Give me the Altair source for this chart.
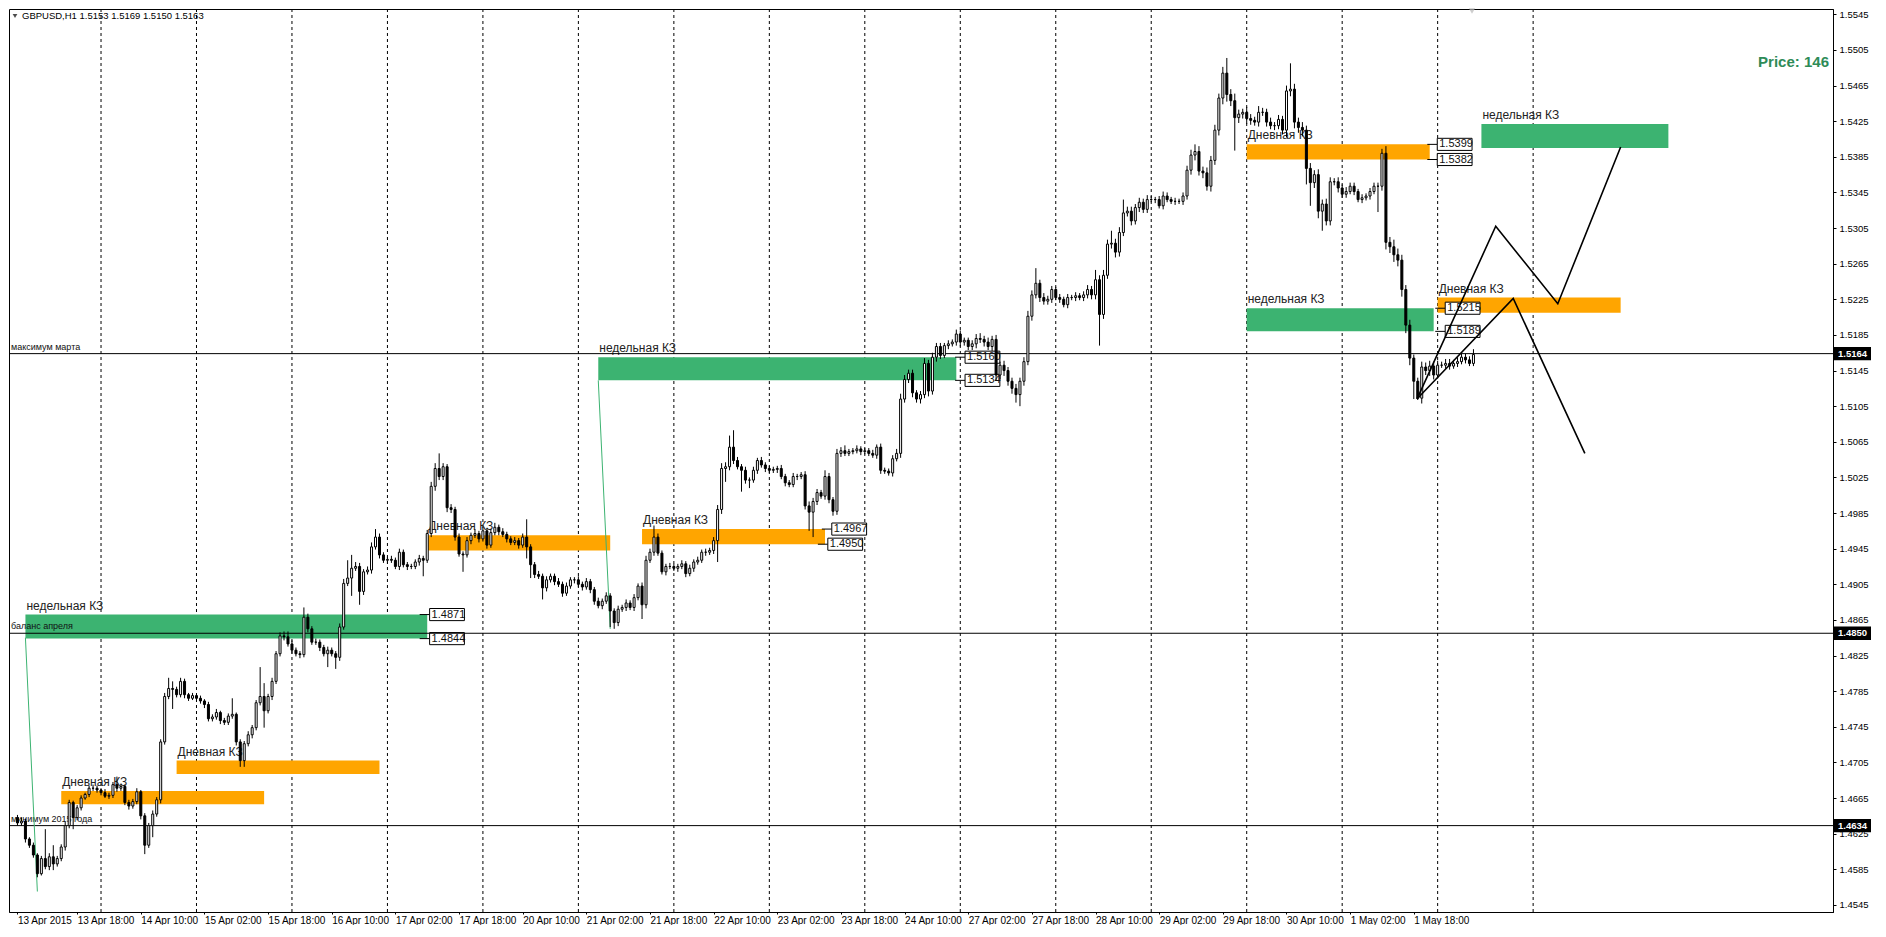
import altair as alt
import pandas as pd

# ---------------- data (prices in pips above 1.4500) ----------------
BASE = 1.45
FIRST_OPEN = 143
CLOSE = [
    137, 139, 119, 112, 101, 80, 97, 88, 99, 91,
    97, 110, 134, 160, 143, 154, 165, 169, 176, 176,
    174, 171, 167, 168, 180, 176, 178, 160, 156, 161,
    172, 145, 112, 134, 147, 163, 228, 279, 288, 287,
    281, 296, 281, 277, 280, 277, 274, 270, 254, 256,
    261, 252, 250, 257, 259, 228, 207, 226, 236, 244,
    272, 279, 263, 279, 296, 327, 347, 346, 338, 331,
    327, 326, 368, 355, 340, 340, 334, 327, 331, 327,
    323, 357, 406, 412, 423, 425, 397, 419, 421, 447,
    458, 438, 432, 433, 432, 425, 441, 427, 425, 425,
    430, 434, 432, 462, 515, 535, 526, 537, 491, 489,
    458, 439, 438, 454, 460, 462, 456, 465, 449, 463,
    469, 464, 461, 456, 452, 454, 449, 458, 447, 427,
    416, 414, 401, 410, 414, 408, 405, 395, 403, 410,
    410, 405, 402, 408, 399, 386, 381, 386, 392, 375,
    362, 377, 379, 384, 379, 390, 403, 382, 432, 441,
    458, 440, 419, 425, 425, 423, 425, 428, 417, 423,
    430, 432, 441, 441, 443, 454, 489, 535, 537, 559,
    544, 537, 533, 522, 522, 533, 544, 539, 535, 533,
    534, 535, 526, 519, 517, 526, 526, 528, 493, 486,
    498, 508, 504, 526, 500, 487, 552, 555, 552, 554,
    555, 557, 554, 555, 552, 550, 559, 533, 532, 530,
    546, 552, 613, 635, 642, 620, 613, 618, 653, 622,
    660, 672, 662, 673, 675, 677, 686, 677, 679, 672,
    675, 681, 680, 677, 672, 680, 640, 651, 645, 633,
    625, 618, 633, 655, 706, 730, 743, 727, 723, 725,
    736, 727, 725, 719, 727, 727, 729, 727, 730, 736,
    730, 747, 708, 752, 787, 788, 778, 800, 822, 824,
    813, 828, 834, 826, 837, 837, 837, 830, 841, 837,
    835, 835, 835, 841, 870, 887, 891, 869, 867, 852,
    881, 915, 951, 979, 955, 948, 929, 933, 935, 928,
    926, 924, 935, 935, 924, 920, 920, 927, 915, 959,
    961, 924, 918, 915, 872, 856, 865, 824, 832, 813,
    857, 857, 850, 843, 846, 852, 846, 837, 839, 841,
    846, 852, 852, 889, 789, 784, 775, 769, 736, 696,
    659, 633, 614, 649, 645, 650, 640, 651, 651, 653,
    650, 653, 655, 660, 657, 653, 663,
]
HIGH_WICK = [
    3, 4, 3, 2, 3, 2, 3, 33, 4, 13,
    3, 3, 4, 3, 2, 3, 3, 2, 3, 4,
    3, 2, 4, 3, 3, 9, 3, 2, 3, 3,
    4, 2, 3, 3, 4, 3, 3, 4, 12, 8,
    3, 4, 3, 2, 3, 2, 3, 2, 3, 3,
    4, 2, 3, 3, 18, 2, 3, 3, 4, 3,
    3, 33, 15, 3, 4, 3, 4, 5, 6, 4,
    3, 3, 11, 4, 3, 4, 3, 3, 4, 3,
    3, 4, 5, 20, 15, 5, 4, 3, 4, 5,
    9, 4, 3, 3, 4, 3, 4, 3, 3, 3,
    3, 4, 3, 4, 5, 6, 17, 4, 3, 4,
    3, 4, 3, 4, 3, 5, 3, 4, 3, 4,
    5, 3, 4, 3, 3, 4, 3, 4, 20, 3,
    3, 4, 3, 4, 3, 3, 4, 3, 4, 3,
    3, 4, 3, 4, 3, 3, 4, 3, 4, 3,
    3, 4, 3, 4, 3, 4, 3, 4, 5, 4,
    13, 4, 3, 3, 4, 3, 3, 4, 3, 4,
    3, 4, 3, 4, 3, 4, 5, 6, 5, 13,
    19, 4, 3, 4, 3, 4, 3, 4, 3, 3,
    3, 3, 4, 3, 3, 4, 3, 3, 4, 5,
    4, 4, 3, 7, 4, 3, 5, 4, 6, 3,
    3, 4, 3, 3, 3, 4, 3, 4, 3, 3,
    4, 5, 6, 5, 4, 4, 3, 4, 6, 4,
    5, 4, 4, 3, 4, 3, 5, 4, 3, 3,
    4, 5, 6, 4, 5, 4, 5, 4, 5, 4,
    4, 5, 4, 5, 6, 5, 17, 4, 5, 4,
    4, 3, 4, 3, 4, 3, 4, 3, 4, 5,
    4, 11, 5, 6, 5, 14, 5, 6, 15, 5,
    5, 4, 5, 4, 5, 4, 3, 4, 5, 4,
    3, 4, 3, 4, 5, 6, 8, 6, 5, 6,
    5, 6, 5, 7, 17, 6, 8, 5, 4, 6,
    5, 4, 7, 5, 4, 5, 4, 5, 4, 6,
    29, 6, 5, 6, 5, 6, 5, 6, 5, 6,
    5, 4, 5, 4, 5, 4, 4, 3, 4, 3,
    4, 4, 4, 5, 8, 6, 8, 7, 6, 5,
    6, 4, 4, 6, 5, 6, 5, 5, 4, 5,
    5, 4, 5, 4, 4, 4, 6,
]
LOW_WICK = [
    3, 3, 4, 3, 3, 4, 2, 3, 4, 7,
    3, 3, 4, 3, 13, 3, 3, 2, 3, 3,
    3, 3, 2, 3, 3, 4, 3, 3, 4, 3,
    3, 4, 10, 3, 13, 3, 4, 3, 3, 22,
    3, 3, 4, 3, 2, 3, 3, 4, 3, 3,
    3, 4, 3, 3, 3, 4, 7, 7, 3, 4,
    3, 3, 19, 3, 4, 3, 3, 4, 3, 4,
    3, 4, 3, 4, 3, 3, 4, 3, 15, 3,
    13, 4, 3, 3, 20, 3, 15, 4, 3, 4,
    3, 4, 3, 4, 3, 3, 4, 3, 4, 3,
    3, 4, 18, 3, 4, 5, 4, 4, 5, 4,
    4, 3, 19, 3, 4, 3, 4, 3, 4, 3,
    3, 4, 3, 4, 3, 3, 4, 3, 13, 15,
    4, 3, 13, 4, 3, 4, 3, 4, 3, 3,
    4, 3, 4, 3, 4, 4, 3, 4, 3, 18,
    7, 4, 3, 4, 3, 4, 3, 16, 4, 3,
    4, 3, 3, 4, 3, 3, 4, 3, 4, 3,
    4, 3, 3, 4, 3, 4, 24, 5, 15, 4,
    4, 3, 24, 4, 9, 3, 4, 3, 4, 3,
    3, 4, 3, 4, 3, 3, 4, 3, 4, 21,
    28, 4, 3, 4, 4, 5, 4, 4, 3, 3,
    3, 3, 4, 3, 3, 3, 4, 4, 3, 3,
    4, 3, 5, 4, 4, 5, 4, 5, 4, 6,
    4, 5, 4, 3, 4, 3, 4, 5, 4, 4,
    4, 5, 4, 5, 4, 5, 6, 5, 6, 5,
    6, 9, 13, 5, 4, 5, 4, 5, 4, 4,
    4, 3, 4, 3, 4, 3, 4, 3, 4, 4,
    5, 5, 35, 5, 4, 5, 6, 5, 4, 4,
    5, 4, 5, 4, 4, 3, 4, 3, 4, 3,
    3, 4, 3, 4, 4, 5, 6, 5, 6, 5,
    6, 5, 6, 7, 8, 6, 37, 6, 5, 6,
    5, 4, 5, 4, 5, 4, 5, 4, 5, 8,
    6, 7, 6, 7, 18, 26, 6, 8, 22, 5,
    5, 4, 5, 4, 4, 3, 4, 3, 4, 3,
    4, 3, 29, 5, 8, 7, 8, 7, 8, 9,
    8, 20, 2, 6, 5, 6, 5, 4, 3, 4,
    4, 3, 4, 3, 4, 3, 3,
]

DAY_STARTS = [21, 45, 69, 93, 117, 141, 165, 189, 213, 237, 261, 285, 309, 333, 357, 381]
LABEL_BARS = [0, 15, 31, 47, 63, 79, 95, 111, 127, 143, 159, 175, 191, 207, 223,
              239, 255, 271, 287, 303, 319, 335, 351]
LABEL_TEXT = ["13 Apr 2015", "13 Apr 18:00", "14 Apr 10:00", "15 Apr 02:00", "15 Apr 18:00",
              "16 Apr 10:00", "17 Apr 02:00", "17 Apr 18:00", "20 Apr 10:00", "21 Apr 02:00",
              "21 Apr 18:00", "22 Apr 10:00", "23 Apr 02:00", "23 Apr 18:00", "24 Apr 10:00",
              "27 Apr 02:00", "27 Apr 18:00", "28 Apr 10:00", "29 Apr 02:00", "29 Apr 18:00",
              "30 Apr 10:00", "1 May 02:00", "1 May 18:00"]
Y_TICKS = [1.4545, 1.4585, 1.4625, 1.4665, 1.4705, 1.4745, 1.4785, 1.4825, 1.4865,
           1.4905, 1.4945, 1.4985, 1.5025, 1.5065, 1.5105, 1.5145, 1.5185, 1.5225,
           1.5265, 1.5305, 1.5345, 1.5385, 1.5425, 1.5465, 1.5505, 1.5545]

H_LINES = [1.5164, 1.4850, 1.4634]
H_LINE_TEXT = ["максимум марта", "баланс апреля", "минимум 2015 года"]

ZONE_START = [2, 146, 309, 368, 11, 40, 103, 157, 309, 357]
ZONE_END = [103, 236, 356, 415, 62, 91, 149, 203, 355, 403]
ZONE_LOW = [1.4844, 1.5134, 1.5189, 1.5395, 1.4658, 1.4692, 1.4943, 1.4950, 1.5382, 1.5210]
ZONE_HIGH = [1.4871, 1.5160, 1.5215, 1.5422, 1.4673, 1.4707, 1.4960, 1.4967, 1.5399, 1.5227]
ZONE_KIND = ["w", "w", "w", "w", "d", "d", "d", "d", "d", "d"]
ZONE_NAME = {"w": "недельная КЗ", "d": "Дневная КЗ"}
ZONE_COLOR = {"w": "#3CB371", "d": "#FFA500"}

TAG_BAR = [103.6, 103.6, 238.2, 238.2, 204.7, 203.7, 356.9, 356.9, 358.9, 358.9]
TAG_PRICE = [1.4871, 1.4844, 1.5160, 1.5134, 1.4967, 1.4950, 1.5399, 1.5382, 1.5215, 1.5189]

GREEN_LINE_BARS = [[2, 5], [146, 149]]
GREEN_LINE_PRICES = [[1.4845, 1.4560], [1.5134, 1.4855]]

PATH_BARS = [[351.8, 371.6, 387.2, 403.0], [351.8, 376.0, 394.0]]
PATH_PRICES = [[1.5113, 1.5307, 1.5220, 1.5396], [1.5113, 1.5226, 1.5052]]

AXIS_TAGS = [1.5164, 1.4850, 1.4634]
HEADER = "GBPUSD,H1  1.5153 1.5169 1.5150 1.5163"
PRICE_TEXT = "Price: 146"

# ---------------- build tables ----------------
rows = []
prev = FIRST_OPEN
for i, c in enumerate(CLOSE):
    o = prev
    hi = max(o, c) + HIGH_WICK[i]
    lo = min(o, c) - LOW_WICK[i]
    rows.append(dict(i=i, o=BASE + o / 1e4, c=BASE + c / 1e4,
                     h=BASE + hi / 1e4, l=BASE + lo / 1e4, bull=bool(c >= o)))
    prev = c
candles = pd.DataFrame(rows)

zones = pd.DataFrame(dict(x0=ZONE_START, x1=ZONE_END, p0=ZONE_LOW, p1=ZONE_HIGH,
                          col=[ZONE_COLOR[k] for k in ZONE_KIND],
                          name=[ZONE_NAME[k] for k in ZONE_KIND]))
tags = pd.DataFrame(dict(x0=TAG_BAR, x1=[b + 8.75 for b in TAG_BAR],
                         lx=[b - 2.5 for b in TAG_BAR],
                         p=TAG_PRICE, hi=[p + 0.00068 for p in TAG_PRICE],
                         lo=[p - 0.00068 for p in TAG_PRICE],
                         t=[f"{p:.4f}" for p in TAG_PRICE]))
hl = pd.DataFrame(dict(p=H_LINES, t=H_LINE_TEXT))
days = pd.DataFrame(dict(d=DAY_STARTS))

g_rows = []
for g, (bs, ps) in enumerate(zip(GREEN_LINE_BARS, GREEN_LINE_PRICES)):
    for k, (b, p) in enumerate(zip(bs, ps)):
        g_rows.append(dict(g=g, k=k, b=b, p=p))
glines = pd.DataFrame(g_rows)
p_rows = []
for g, (bs, ps) in enumerate(zip(PATH_BARS, PATH_PRICES)):
    for k, (b, p) in enumerate(zip(bs, ps)):
        p_rows.append(dict(g=g, k=k, b=b, p=p))
paths = pd.DataFrame(p_rows)
atags = pd.DataFrame(dict(p=AXIS_TAGS, hi=[p + 0.00075 for p in AXIS_TAGS],
                          lo=[p - 0.00075 for p in AXIS_TAGS],
                          t=[f"{p:.4f}" for p in AXIS_TAGS]))

# ---------------- scales / axes ----------------
W, H = 1824, 903
XD = [-0.875, 455.125]
YD = [1.4537, 1.5551]
FONT = "Liberation Sans"

label_expr = ("[" + ",".join(f"'{t}'" for t in LABEL_TEXT) + "][indexof(["
              + ",".join(str(b) for b in LABEL_BARS) + "], datum.value)]")
XAXIS = alt.Axis(values=LABEL_BARS, labelExpr=label_expr, labelAlign="left",
                 labelFont=FONT, labelFontSize=10, labelColor="black", tickColor="black",
                 tickSize=2, domainColor="black", labelPadding=1, labelOverlap=False,
                 labelFlush=False, grid=False, title=None)
YAXIS = alt.Axis(orient="right", values=Y_TICKS, format=".4f", labelFont=FONT,
                 labelFontSize=9.5, labelColor="black", tickColor="black", tickSize=3,
                 domainColor="black", labelPadding=3, labelOverlap=False, grid=False,
                 title=None)


def X(f):
    return alt.X(f"{f}:Q", scale=alt.Scale(domain=XD, nice=False, zero=False), axis=XAXIS)


def Y(f):
    return alt.Y(f"{f}:Q", scale=alt.Scale(domain=YD, nice=False, zero=False), axis=YAXIS)


grid = alt.Chart(days).mark_rule(color="black", strokeDash=[3, 3], strokeWidth=1).encode(x=X("d"))

zone_rects = alt.Chart(zones).mark_rect().encode(
    x=X("x0"), x2="x1", y=Y("p1"), y2="p0", color=alt.Color("col:N", scale=None))
zone_text = alt.Chart(zones).mark_text(align="left", baseline="alphabetic", dx=1, dy=-5,
                                       font=FONT, fontSize=12, color="#222222").encode(
    x=X("x0"), y=Y("p1"), text="name:N")

tag_lead = alt.Chart(tags).mark_rule(color="black", strokeWidth=1).encode(
    x=X("lx"), x2="x0", y=Y("p"))
tag_box = alt.Chart(tags).mark_rect(fill="white", stroke="black", strokeWidth=1).encode(
    x=X("x0"), x2="x1", y=Y("hi"), y2="lo")
tag_text = alt.Chart(tags).mark_text(align="left", baseline="middle", dx=2, font=FONT,
                                     fontSize=11, color="#111111").encode(
    x=X("x0"), y=Y("p"), text="t:N")

hlines = alt.Chart(hl).mark_rule(color="black", strokeWidth=1).encode(y=Y("p"))
hl_text = alt.Chart(hl).mark_text(align="left", baseline="bottom", dx=2, dy=-2, font=FONT,
                                  fontSize=9, color="#111111").encode(
    x=alt.value(0), y=Y("p"), text="t:N")

green_lines = alt.Chart(glines).mark_line(color="#3CB371", strokeWidth=1).encode(
    x=X("b"), y=Y("p"), detail="g:N", order="k:Q")

wicks = alt.Chart(candles).mark_rule(color="black", strokeWidth=1).encode(
    x=X("i"), y=Y("l"), y2="h")
bodies = alt.Chart(candles).mark_bar(size=2, stroke="black", strokeWidth=1).encode(
    x=X("i"), y=Y("o"), y2="c",
    fill=alt.condition("datum.bull", alt.value("white"), alt.value("black")))

path_lines = alt.Chart(paths).mark_line(color="black", strokeWidth=1.6).encode(
    x=X("b"), y=Y("p"), detail="g:N", order="k:Q")

atag_box = alt.Chart(atags).mark_rect(fill="black").encode(
    x=alt.value(W + 1), x2=alt.value(W + 38), y=Y("hi"), y2="lo")
atag_text = alt.Chart(atags).mark_text(align="left", baseline="middle", font=FONT,
                                       fontSize=9.5, fontWeight="bold", color="white").encode(
    x=alt.value(W + 5), y=Y("p"), text="t:N")

header = alt.Chart(pd.DataFrame(dict(t=[HEADER]))).mark_text(
    align="left", baseline="middle", font=FONT, fontSize=9.5, color="black").encode(
    x=alt.value(13), y=alt.value(7), text="t:N")
header_tri = alt.Chart(pd.DataFrame(dict(t=[HEADER]))).mark_point(
    shape="triangle-down", filled=True, size=22, color="black").encode(
    x=alt.value(6), y=alt.value(7))
shift_tri = alt.Chart(pd.DataFrame(dict(t=[1]))).mark_point(
    shape="triangle-down", filled=True, size=40, color="#b8b8b8").encode(
    x=alt.value(1463), y=alt.value(2))
price_text = alt.Chart(pd.DataFrame(dict(t=[PRICE_TEXT]))).mark_text(
    align="right", baseline="middle", font=FONT, fontSize=15, fontWeight="bold",
    color="#2E8B57").encode(x=alt.value(W - 4), y=alt.value(53), text="t:N")

chart = alt.layer(
    grid, zone_rects, tag_lead, tag_box, tag_text, zone_text, hlines, hl_text,
    green_lines, wicks, bodies, path_lines, atag_box, atag_text,
    header, header_tri, shift_tri, price_text,
).properties(width=W, height=H, padding=0, background="white").configure_view(
    stroke="black", strokeWidth=1)

chart.save("out.html", embed_options={"renderer": "svg", "actions": False})
